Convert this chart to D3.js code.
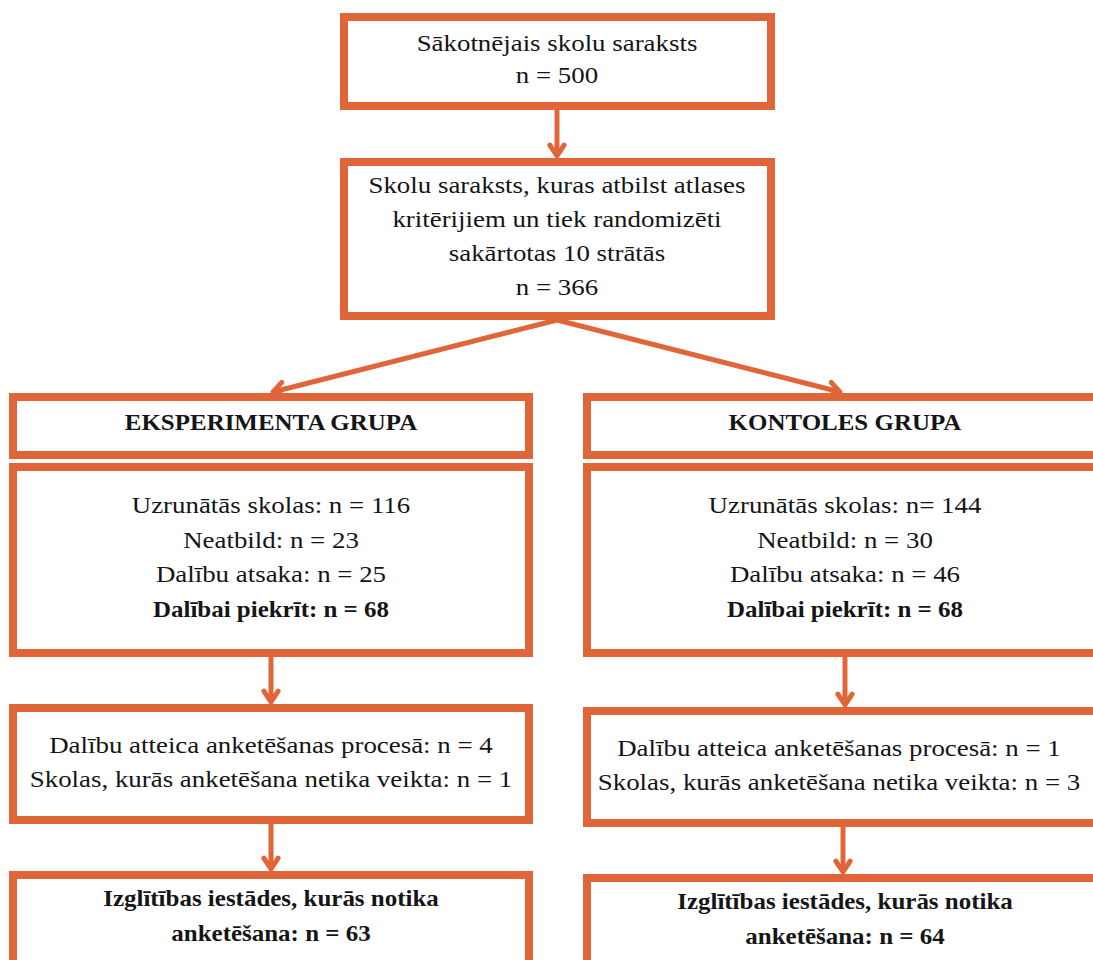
<!DOCTYPE html>
<html>
<head>
<meta charset="utf-8">
<script src="https://cdn.jsdelivr.net/npm/d3@7"></script>
<style>
  body { margin: 0; background: #fff; }
  svg { display: block; }
</style>
</head>
<body>
<div id="chart"></div>
<script>
// data
var top_lines = ["Sākotnējais skolu saraksts", "n = 500"];
var strata_lines = ["Skolu saraksts, kuras atbilst atlases", "kritērijiem un tiek randomizēti", "sakārtotas 10 strātās", "n = 366"];
var groups = ["EKSPERIMENTA GRUPA", "KONTOLES GRUPA"];
var contacted = [116, 144];
var no_answer = [23, 30];
var refused = [25, 46];
var agreed = [68, 68];
var withdrew = [4, 1];
var not_done = [1, 3];
var surveyed = [63, 64];

var W = 1093, H = 960;
var orange = "#e0663a";
// reference text looks a bit wider than Times
var stretch = 1.12, stretch_bold = 1.04;

var svg = d3.select("#chart").append("svg")
    .attr("width", W).attr("height", H);

var box_g = svg.append("g");
var text_g = svg.append("g");

// columns
var col_x = d3.scaleOrdinal().domain([0, 1]).range([9, 583]);
var col_w = 524;

function box(x, y, w, h) {
    box_g.append("rect")
        .attr("x", x + 4).attr("y", y + 4)
        .attr("width", w - 8).attr("height", h - 8)
        .attr("fill", "#fff")
        .attr("stroke", orange)
        .attr("stroke-width", 8);
}

function lines(cx, cy0, step, arr, bold_idx) {
    arr.forEach(function(t, i) {
        var bold = bold_idx.indexOf(i) > -1;
        var s = bold ? stretch_bold : stretch;
        var txt = text_g.append("text")
            .attr("x", cx)
            .attr("y", cy0 + i * step + 8)
            .attr("font-family", "Liberation Serif")
            .attr("font-size", 24)
            .attr("fill", "#151515")
            .text(t);
        if (bold) txt.attr("font-weight", "bold");
        var len = txt.node().getComputedTextLength() * s;
        txt.attr("x", cx - len / 2)
            .attr("textLength", len)
            .attr("lengthAdjust", "spacingAndGlyphs");
    });
}

function arrow(x1, y1, x2, y2) {
    var a = Math.atan2(y2 - y1, x2 - x1);
    box_g.append("line")
        .attr("x1", x1).attr("y1", y1)
        .attr("x2", x2 - Math.cos(a) * 2).attr("y2", y2 - Math.sin(a) * 2)
        .attr("stroke", orange).attr("stroke-width", 5);
    var len = 13, half = 0.58;
    var p1 = [x2 - len * Math.cos(a - half), y2 - len * Math.sin(a - half)];
    var p2 = [x2 - len * Math.cos(a + half), y2 - len * Math.sin(a + half)];
    box_g.append("path")
        .attr("d", "M" + p1 + "L" + [x2, y2] + "L" + p2)
        .attr("fill", "none")
        .attr("stroke", orange).attr("stroke-width", 5)
        .attr("stroke-linecap", "round")
        .attr("stroke-linejoin", "round");
}

// top part
box(340, 13, 435, 97);
lines(557, 43, 32, top_lines, []);
arrow(557, 110, 557, 156);

box(340, 158, 435, 162);
lines(557, 185, 34, strata_lines, []);

arrow(557, 320, col_x(0) + 264, 392);
arrow(557, 320, col_x(1) + 257, 392);

// groups
var dy = [0, 3];
groups.forEach(function(g, i) {
    var x = col_x(i);
    var cx = x + col_w / 2;
    box(x, 393, col_w, 66);
    lines(cx, 422, 0, [g], [0]);

    box(x, 463, col_w, 194);
    var sep = (i == 1) ? "n= " : "n = ";
    lines(cx, 505, 34.5, [
        "Uzrunātās skolas: " + sep + contacted[i],
        "Neatbild: n = " + no_answer[i],
        "Dalību atsaka: n = " + refused[i],
        "Dalībai piekrīt: n = " + agreed[i]
    ], [3]);

    var ax = (i == 0) ? 271 : 845;
    arrow(ax, 657, ax, 702 + dy[i]);

    box(x, 704 + dy[i], col_w, 120);
    lines(cx - (i == 1 ? 6 : 0), 745 + dy[i], 34, [
        "Dalību atteica anketēšanas procesā: n = " + withdrew[i],
        "Skolas, kurās anketēšana netika veikta: n = " + not_done[i]
    ], []);

    arrow(ax - (i == 1 ? 2 : 0), 824 + dy[i], ax - (i == 1 ? 2 : 0), 869 + dy[i]);

    box(x, 871 + dy[i], col_w, 120);
    lines(cx, 898 + dy[i], 35, [
        "Izglītības iestādes, kurās notika",
        "anketēšana: n = " + surveyed[i]
    ], [0, 1]);
});
</script>
</body>
</html>
